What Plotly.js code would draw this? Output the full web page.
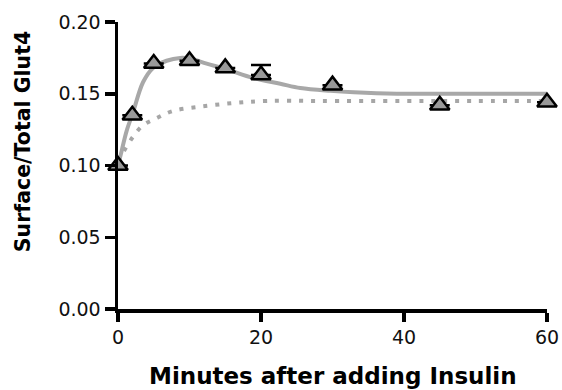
<!DOCTYPE html>
<html><head><meta charset="utf-8">
<script src="https://cdn.plot.ly/plotly-3.0.1.min.js"></script>
<style>html,body{margin:0;padding:0;background:#fff}#c{width:562px;height:390px}</style>
</head><body><div id="c"></div>
<script>
// Measured data points
var timeMin = [0, 2, 5, 10, 15, 20, 30, 45, 60];
var ratio = [0.100, 0.135, 0.171, 0.173, 0.168, 0.163, 0.156, 0.142, 0.144];
var errUp = [null, null, null, null, null, 0.007, null, null, null];
var errDown = [null, null, null, null, null, 0, null, null, null];
// Fitted curve (solid)
var fitX = [0, 0.5, 1.2, 2.1, 3.5, 4.9, 6.8, 8.7, 10.1, 12.4, 15.2, 18.9, 22.7, 25.5, 29.7, 33, 39, 45, 52, 60];
var fitY = [0.100, 0.110, 0.124, 0.137, 0.158, 0.168, 0.173, 0.175, 0.1745, 0.171, 0.167, 0.161, 0.157, 0.154, 0.152, 0.151, 0.150, 0.150, 0.150, 0.150];
// Second curve (dotted)
var dotX = [0, 0.7, 2.1, 3.5, 5.4, 7.7, 11.5, 16.1, 20.8, 28, 40, 50, 60];
var dotY = [0.103, 0.109, 0.120, 0.128, 0.133, 0.138, 0.141, 0.1435, 0.145, 0.145, 0.145, 0.145, 0.145];

var xTicks = [0, 20, 40, 60];
var yTicks = [0, 0.05, 0.10, 0.15, 0.20];
var yTickText = ['0.00', '0.05', '0.10', '0.15', '0.20'];

var traces = [
  {x: dotX, y: dotY, mode: 'lines', line: {color: '#a6a6a6', width: 4, dash: '4px,8px', shape: 'spline'}, hoverinfo: 'skip', cliponaxis: false},
  {x: fitX, y: fitY, mode: 'lines', line: {color: '#a8a8a8', width: 4, shape: 'spline'}, hoverinfo: 'skip', cliponaxis: false},
  {x: timeMin, y: ratio, mode: 'markers', cliponaxis: false,
   marker: {symbol: 'triangle-up', size: 17, color: '#999999', line: {color: '#000', width: 2.5}},
   error_y: {type: 'data', symmetric: false, array: errUp, arrayminus: errDown, color: '#000', thickness: 2.5, width: 10}}
];

var tickFont = {family: 'DejaVu Sans, sans-serif', size: 19, color: '#111'};
var layout = {
  width: 562, height: 390,
  margin: {l: 118, r: 15, t: 22, b: 81},
  paper_bgcolor: '#fff', plot_bgcolor: '#fff',
  showlegend: false,
  font: {family: 'DejaVu Sans, sans-serif', color: '#111', size: 19},
  xaxis: {range: [0, 60], tickvals: xTicks, ticktext: xTicks.map(String), showgrid: false, zeroline: false,
    showline: true, linecolor: '#000', linewidth: 3.5, ticks: 'outside', ticklen: 9, tickwidth: 3.5, tickcolor: '#000',
    tickfont: tickFont},
  yaxis: {range: [0, 0.2], tickvals: yTicks, ticktext: yTickText, showgrid: false, zeroline: false,
    showline: true, linecolor: '#000', linewidth: 3.5, ticks: 'outside', ticklen: 10, tickwidth: 3.5, tickcolor: '#000',
    tickfont: tickFont},
  annotations: [
    {text: '<b>Minutes after adding Insulin</b>', xref: 'paper', yref: 'paper', x: 0.5, y: -0.232, xanchor: 'center', yanchor: 'middle', showarrow: false, font: {family: 'DejaVu Sans, sans-serif', size: 23, color: '#000'}},
    {text: '<b>Surface/Total Glut4</b>', xref: 'paper', yref: 'paper', x: -0.221, y: 0.582, xanchor: 'center', yanchor: 'middle', textangle: -90, showarrow: false, font: {family: 'DejaVu Sans, sans-serif', size: 20.5, color: '#000'}}
  ]
};
Plotly.newPlot('c', traces, layout, {displayModeBar: false, staticPlot: true});
</script></body></html>
